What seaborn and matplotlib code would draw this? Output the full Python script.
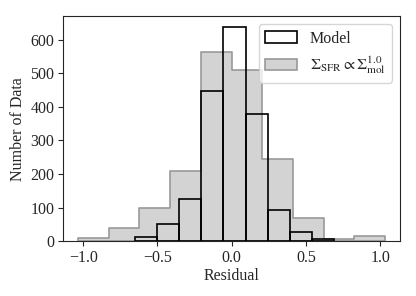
import numpy as np
import matplotlib
matplotlib.use("Agg")
import matplotlib.pyplot as plt
import seaborn as sns
from matplotlib.patches import Patch

# bin edges and counts
sfr_edges = list(np.linspace(-1.034, 1.032, 11))
sfr_counts = [9, 38, 100, 210, 565, 510, 246, 68, 8, 15]

model_edges = list(np.linspace(-0.653, 0.691, 10))
model_counts = [12, 51, 125, 446, 638, 380, 93, 27, 6]

sns.set_style("ticks")
plt.rcParams["font.family"] = ["Liberation Serif", "DejaVu Serif"]
plt.rcParams["mathtext.fontset"] = "stix"
plt.rcParams["font.size"] = 11.5

fig = plt.figure(figsize=(4.16, 2.96), dpi=100)
ax = fig.add_axes([0.151, 0.185, 0.811, 0.76])

sfr_centers = [(a + b) / 2 for a, b in zip(sfr_edges[:-1], sfr_edges[1:])]
model_centers = [(a + b) / 2 for a, b in zip(model_edges[:-1], model_edges[1:])]

sns.histplot(x=sfr_centers, weights=sfr_counts, bins=sfr_edges, element="step",
             fill=True, color="lightgray", edgecolor="#999999", linewidth=1.2,
             alpha=1, ax=ax)
sns.histplot(x=model_centers, weights=model_counts, bins=model_edges, element="bars",
             fill=False, color="black", linewidth=1.2, ax=ax)

ax.set_xlabel("Residual", labelpad=2)
ax.set_ylabel("Number of Data", labelpad=3)
ax.set_xticks([-1.0, -0.5, 0.0, 0.5, 1.0])
ax.tick_params(pad=2.5)
for s in ax.spines.values():
    s.set_visible(True)

handles = [Patch(facecolor="none", edgecolor="black", linewidth=1.2, label="Model"),
           Patch(facecolor="lightgray", edgecolor="#999999", linewidth=1.2,
                 label=r"$\Sigma_{\rm SFR} \propto \Sigma_{\rm mol}^{1.0}$")]
ax.legend(handles=handles, loc="upper right", fontsize=11.5)

fig.savefig("out.png", dpi=100)
